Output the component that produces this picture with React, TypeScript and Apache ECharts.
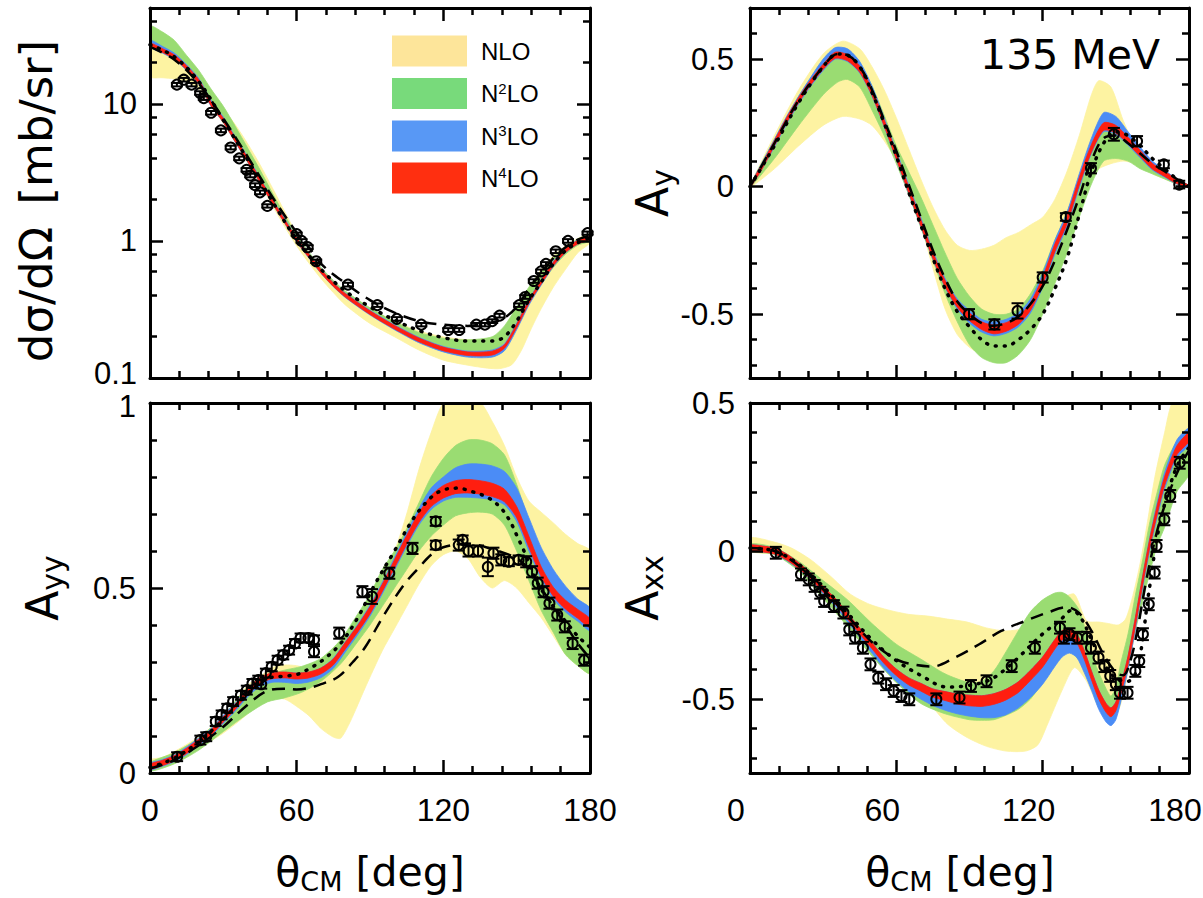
import React, { useEffect, useRef } from "react";
import * as echarts from "echarts";

// ---------- axis ticks / labels ----------
const xMajor = [0, 60, 120, 180];
const xMinor = [12, 24, 36, 48, 72, 84, 96, 108, 132, 144, 156, 168];
const dcsMajor = [0.1, 1, 10];
const dcsMinor = [0.2, 0.4, 0.6, 0.8, 2, 4, 6, 8, 20, 40];
const ayMajor = [-0.5, 0, 0.5];
const ayMinor = [-0.7, -0.6, -0.4, -0.3, -0.2, -0.1, 0.1, 0.2, 0.3, 0.4, 0.6];
const ayyMajor = [0, 0.5, 1];
const ayyMinor = [0.1, 0.2, 0.3, 0.4, 0.6, 0.7, 0.8, 0.9];
const axxMajor = [-0.5, 0, 0.5];
const axxMinor = [-0.7, -0.6, -0.4, -0.3, -0.2, -0.1, 0.1, 0.2, 0.3, 0.4];

// ---------- panel 1: dσ/dΩ [mb/sr]  ([deg, lower, upper]) ----------
const dcsNLO = [[0,15.8,28],[5,15.5,25.5],[10,15.2,22.5],[15,14.5,19],[20,12.8,15.5],[25,9.6,11.8],[30,7.2,9.2],[35,5.2,7.0],[40,3.7,5.1],[45,2.6,3.6],[50,1.82,2.45],[55,1.28,1.65],[60,0.92,1.12],[65,0.69,0.8],[70,0.53,0.62],[75,0.42,0.5],[80,0.34,0.42],[90,0.25,0.32],[100,0.2,0.26],[110,0.16,0.22],[120,0.135,0.2],[130,0.124,0.19],[138,0.118,0.19],[143,0.117,0.2],[148,0.125,0.25],[152,0.16,0.35],[156,0.23,0.48],[160,0.32,0.62],[165,0.46,0.78],[170,0.62,0.92],[175,0.82,1.04],[180,0.97,1.12]];
const dcsN2LO = [[0,27,37],[5,24,33.5],[10,21.2,29],[15,17.6,22.5],[20,13.9,17.5],[25,9.8,12.8],[30,7.4,9.6],[35,5.3,6.8],[40,3.8,4.75],[45,2.7,3.3],[50,1.9,2.25],[55,1.37,1.55],[60,1.0,1.1],[65,0.76,0.83],[70,0.585,0.64],[75,0.468,0.515],[80,0.39,0.43],[90,0.293,0.325],[100,0.23,0.258],[110,0.186,0.215],[120,0.16,0.195],[130,0.152,0.19],[140,0.158,0.2],[145,0.18,0.24],[150,0.245,0.33],[155,0.35,0.46],[160,0.48,0.6],[165,0.64,0.75],[170,0.8,0.9],[175,0.93,1.03],[180,1.0,1.12]];
const dcsN3LO = [[0,26,29.2],[5,23.5,26.3],[10,21,23.4],[15,17.5,19.3],[20,13.8,15.3],[25,9.6,10.6],[30,7.3,8.0],[35,5.2,5.7],[40,3.75,4.1],[45,2.65,2.88],[50,1.88,2.03],[55,1.35,1.46],[60,0.98,1.06],[65,0.75,0.81],[70,0.578,0.622],[75,0.463,0.497],[80,0.385,0.415],[90,0.288,0.312],[100,0.225,0.245],[110,0.181,0.198],[120,0.155,0.17],[130,0.142,0.157],[140,0.142,0.16],[145,0.158,0.178],[150,0.225,0.252],[155,0.34,0.375],[160,0.475,0.52],[165,0.65,0.71],[170,0.82,0.88],[175,0.95,1.02],[180,1.02,1.09]];
const dcsN4LO = [[0,26.2,27.8],[5,23.8,25.3],[10,21.3,22.7],[15,17.7,18.9],[20,14.0,15.0],[25,9.7,10.3],[30,7.35,7.85],[35,5.25,5.6],[40,3.78,4.02],[45,2.67,2.84],[50,1.89,2.01],[55,1.36,1.44],[60,0.99,1.05],[65,0.757,0.803],[70,0.582,0.618],[75,0.466,0.494],[80,0.388,0.412],[90,0.291,0.309],[100,0.228,0.242],[110,0.184,0.196],[120,0.158,0.168],[130,0.146,0.155],[140,0.147,0.157],[145,0.165,0.175],[150,0.233,0.247],[155,0.35,0.37],[160,0.485,0.515],[165,0.66,0.7],[170,0.825,0.875],[175,0.95,1.01],[180,1.02,1.08]];
const dcsDashed = [[0,26],[10,21],[20,14],[30,7.8],[40,4.1],[50,2.1],[60,1.15],[65,0.9],[70,0.68],[80,0.49],[90,0.37],[100,0.3],[110,0.26],[120,0.245],[130,0.24],[140,0.255],[145,0.275],[150,0.33],[155,0.45],[160,0.58],[165,0.75],[170,0.9],[175,1.02],[180,1.1]];
const dcsDotted = [[0,27],[10,22],[20,14.5],[30,7.6],[40,3.9],[50,1.95],[60,1.02],[70,0.62],[80,0.43],[90,0.33],[100,0.265],[110,0.222],[120,0.197],[130,0.186],[140,0.186],[145,0.2],[150,0.26],[155,0.37],[160,0.5],[165,0.68],[170,0.85],[175,0.97],[180,1.05]];
const dcsData = [[11,13.8,0.4],[13.8,15,0.45],[17,13.8,0.4],[20.5,12,0.35],[22,11,0.33],[25,8.6,0.26],[29,6.4,0.19],[33,4.8,0.15],[36.5,4.0,0.12],[39.5,3.3,0.1],[41,3.0,0.09],[43,2.55,0.08],[45,2.26,0.07],[48,1.8,0.05],[60,1.12,0.03],[62,1.0,0.03],[64.5,0.9,0.03],[68,0.71,0.02],[81,0.48,0.015],[93,0.34,0.01],[101,0.27,0.008],[111,0.245,0.007],[122,0.224,0.007],[126.5,0.224,0.007],[133.5,0.245,0.007],[137,0.245,0.007],[140,0.26,0.008],[143,0.285,0.009],[151,0.34,0.01],[153.5,0.39,0.012],[157,0.51,0.015],[160,0.6,0.018],[162,0.68,0.02],[166,0.84,0.025],[171,1.0,0.03],[179,1.14,0.03]];

// ---------- panel 2: Ay ----------
const ayNLO = [[0,-0.005,0.005],[10,0.07,0.2],[20,0.16,0.38],[30,0.24,0.52],[38,0.275,0.57],[45,0.265,0.54],[50,0.24,0.47],[55,0.18,0.38],[60,0.1,0.27],[65,-0.02,0.15],[70,-0.15,0.03],[75,-0.32,-0.08],[80,-0.48,-0.17],[85,-0.58,-0.23],[90,-0.63,-0.25],[95,-0.655,-0.245],[100,-0.66,-0.23],[105,-0.65,-0.2],[110,-0.6,-0.18],[115,-0.52,-0.15],[120,-0.42,-0.12],[125,-0.3,-0.05],[130,-0.17,0.06],[135,-0.04,0.2],[140,0.04,0.36],[143,0.07,0.415],[148,0.09,0.39],[153,0.1,0.26],[158,0.09,0.16],[165,0.05,0.09],[170,0.03,0.06],[175,0.01,0.02],[180,-0.005,0.005]];
const ayN2LO = [[0,-0.005,0.005],[10,0.11,0.185],[20,0.24,0.355],[30,0.36,0.49],[36,0.41,0.535],[40,0.42,0.53],[45,0.39,0.485],[50,0.3,0.395],[55,0.2,0.28],[60,0.09,0.16],[65,-0.03,0.06],[70,-0.16,-0.04],[75,-0.29,-0.15],[80,-0.42,-0.26],[85,-0.53,-0.36],[90,-0.62,-0.43],[95,-0.67,-0.48],[100,-0.69,-0.5],[105,-0.69,-0.5],[110,-0.66,-0.48],[115,-0.6,-0.42],[120,-0.5,-0.33],[125,-0.38,-0.21],[130,-0.26,-0.1],[135,-0.12,0.03],[140,0.01,0.15],[145,0.1,0.24],[150,0.11,0.23],[155,0.1,0.18],[160,0.07,0.13],[165,0.05,0.09],[170,0.03,0.06],[175,0.01,0.03],[180,-0.005,0.005]];
const ayN3LO = [[0,-0.005,0.005],[5,0.07,0.095],[10,0.155,0.185],[15,0.245,0.275],[20,0.325,0.355],[25,0.395,0.43],[30,0.455,0.5],[35,0.5,0.545],[40,0.49,0.54],[45,0.445,0.49],[50,0.355,0.395],[55,0.235,0.27],[60,0.105,0.14],[65,-0.025,0.01],[70,-0.155,-0.12],[75,-0.285,-0.25],[80,-0.395,-0.36],[85,-0.48,-0.44],[90,-0.535,-0.485],[95,-0.57,-0.52],[100,-0.585,-0.53],[105,-0.575,-0.52],[110,-0.55,-0.495],[115,-0.495,-0.44],[120,-0.395,-0.34],[125,-0.265,-0.21],[130,-0.155,-0.1],[135,-0.005,0.05],[140,0.13,0.19],[145,0.215,0.29],[150,0.205,0.275],[155,0.162,0.215],[160,0.113,0.155],[165,0.065,0.1],[170,0.037,0.065],[175,0.01,0.03],[180,-0.005,0.005]];
const ayN4LO = [[0,-0.005,0.005],[5,0.07,0.09],[10,0.16,0.18],[15,0.25,0.27],[20,0.33,0.35],[25,0.4,0.42],[30,0.46,0.48],[35,0.503,0.527],[40,0.493,0.517],[45,0.448,0.472],[50,0.358,0.382],[55,0.238,0.262],[60,0.108,0.132],[65,-0.022,0.002],[70,-0.152,-0.128],[75,-0.282,-0.258],[80,-0.392,-0.368],[85,-0.473,-0.447],[90,-0.525,-0.495],[95,-0.56,-0.53],[100,-0.577,-0.543],[105,-0.567,-0.533],[110,-0.54,-0.51],[115,-0.485,-0.455],[120,-0.385,-0.355],[125,-0.255,-0.225],[130,-0.145,-0.115],[135,0.005,0.035],[140,0.135,0.165],[145,0.22,0.25],[150,0.21,0.24],[155,0.167,0.193],[160,0.118,0.142],[165,0.069,0.091],[170,0.04,0.06],[175,0.012,0.028],[180,-0.005,0.005]];
const ayDashed = [[0,0],[10,0.17],[20,0.34],[30,0.47],[36,0.52],[40,0.515],[45,0.47],[50,0.38],[55,0.26],[60,0.14],[65,0.01],[70,-0.12],[75,-0.25],[80,-0.36],[85,-0.45],[90,-0.5],[95,-0.535],[100,-0.545],[105,-0.535],[110,-0.51],[115,-0.46],[120,-0.39],[125,-0.29],[130,-0.17],[135,-0.04],[140,0.1],[145,0.19],[150,0.2],[155,0.17],[160,0.13],[165,0.09],[170,0.06],[175,0.03],[180,0]];
const ayDotted = [[0,0],[10,0.16],[20,0.33],[30,0.47],[36,0.52],[40,0.515],[45,0.47],[50,0.37],[55,0.25],[60,0.12],[65,-0.02],[70,-0.15],[75,-0.28],[80,-0.4],[85,-0.49],[90,-0.55],[95,-0.6],[100,-0.625],[105,-0.625],[110,-0.6],[115,-0.56],[120,-0.5],[125,-0.4],[130,-0.28],[135,-0.11],[140,0.06],[145,0.17],[150,0.215],[155,0.2],[160,0.16],[165,0.11],[170,0.07],[175,0.03],[180,0]];
const ayData = [[89.8,-0.5,0.02],[100.2,-0.54,0.02],[109.7,-0.487,0.03],[120,-0.356,0.02],[129.5,-0.119,0.015],[139.8,0.072,0.02],[149.2,0.205,0.025],[158.7,0.178,0.02],[169.7,0.087,0.015],[176,0.008,0.015]];

// ---------- panel 3: Ayy ----------
const ayyNLO = [[0,0.005,0.035],[5,0.022,0.042],[10,0.038,0.058],[20,0.068,0.098],[30,0.108,0.152],[40,0.16,0.238],[44,0.19,0.255],[50,0.2,0.285],[55,0.2,0.292],[60,0.18,0.29],[65,0.155,0.282],[70,0.12,0.282],[75,0.097,0.3],[78,0.094,0.33],[82,0.14,0.375],[88,0.23,0.44],[95,0.33,0.54],[100,0.39,0.6],[105,0.45,0.7],[110,0.51,0.82],[115,0.56,0.92],[120,0.59,1.0],[125,0.6,1.06],[130,0.58,1.08],[135,0.53,1.01],[140,0.5,0.95],[145,0.52,0.885],[150,0.5,0.8],[155,0.46,0.735],[160,0.42,0.705],[165,0.37,0.676],[170,0.32,0.645],[175,0.29,0.62],[180,0.27,0.6]];
const ayyN2LO = [[0,0.005,0.028],[10,0.025,0.055],[20,0.062,0.095],[30,0.112,0.155],[40,0.16,0.232],[48,0.192,0.265],[55,0.203,0.278],[62,0.218,0.288],[70,0.248,0.31],[78,0.295,0.36],[85,0.355,0.43],[90,0.4,0.482],[95,0.45,0.55],[100,0.5,0.6],[105,0.55,0.66],[110,0.6,0.73],[115,0.64,0.8],[120,0.67,0.85],[125,0.695,0.885],[130,0.703,0.9],[135,0.705,0.9],[140,0.7,0.89],[145,0.67,0.86],[150,0.6,0.78],[155,0.52,0.68],[160,0.44,0.6],[165,0.38,0.545],[170,0.32,0.5],[175,0.29,0.465],[180,0.27,0.445]];
const ayyN3LO = [[0,0.008,0.026],[5,0.018,0.036],[10,0.031,0.049],[15,0.05,0.07],[20,0.075,0.095],[25,0.1,0.12],[30,0.134,0.156],[35,0.168,0.19],[40,0.206,0.23],[45,0.234,0.258],[50,0.245,0.27],[55,0.245,0.272],[60,0.242,0.27],[65,0.246,0.272],[70,0.258,0.284],[75,0.283,0.31],[80,0.328,0.356],[85,0.374,0.402],[90,0.424,0.454],[95,0.484,0.515],[100,0.548,0.582],[105,0.612,0.65],[110,0.67,0.715],[115,0.712,0.77],[120,0.735,0.8],[125,0.745,0.825],[130,0.745,0.835],[135,0.743,0.835],[140,0.738,0.83],[145,0.725,0.815],[150,0.68,0.77],[155,0.6,0.69],[160,0.525,0.61],[165,0.47,0.55],[170,0.435,0.505],[175,0.41,0.47],[180,0.385,0.445]];
const ayyN4LO = [[0,0.01,0.024],[5,0.02,0.034],[10,0.033,0.047],[15,0.053,0.067],[20,0.078,0.092],[25,0.103,0.117],[30,0.138,0.152],[35,0.173,0.187],[40,0.212,0.228],[45,0.242,0.258],[50,0.255,0.271],[55,0.257,0.273],[60,0.254,0.27],[65,0.257,0.273],[70,0.268,0.284],[75,0.292,0.308],[80,0.336,0.354],[85,0.381,0.399],[90,0.43,0.45],[95,0.49,0.51],[100,0.554,0.576],[105,0.618,0.642],[110,0.677,0.703],[115,0.72,0.75],[120,0.743,0.777],[125,0.755,0.79],[130,0.757,0.793],[135,0.754,0.79],[140,0.747,0.783],[145,0.733,0.767],[150,0.69,0.72],[155,0.61,0.64],[160,0.532,0.558],[165,0.478,0.502],[170,0.443,0.467],[175,0.418,0.442],[180,0.393,0.417]];
const ayyDashed = [[0,0.012],[10,0.035],[20,0.075],[30,0.125],[40,0.185],[48,0.222],[55,0.228],[60,0.226],[65,0.23],[70,0.24],[77,0.26],[83,0.3],[88,0.34],[96,0.43],[104,0.51],[110,0.555],[115,0.59],[120,0.61],[130,0.62],[140,0.605],[150,0.58],[155,0.55],[160,0.5],[165,0.45],[170,0.4],[175,0.35],[180,0.31]];
const ayyDotted = [[0,0.015],[10,0.04],[20,0.085],[30,0.145],[40,0.215],[48,0.255],[55,0.262],[60,0.266],[66,0.285],[72,0.312],[78,0.35],[85,0.42],[92,0.51],[100,0.6],[108,0.69],[115,0.745],[120,0.765],[126,0.77],[131,0.762],[138,0.745],[143,0.72],[147,0.684],[150,0.643],[153,0.6],[158,0.52],[165,0.45],[170,0.41],[175,0.37],[180,0.34]];
const ayyData = [[11.1,0.044,0.012],[20.6,0.089,0.012],[23,0.098,0.012],[26.9,0.139,0.012],[29.3,0.157,0.012],[31.6,0.175,0.012],[34,0.193,0.012],[37.2,0.21,0.012],[39.6,0.224,0.012],[41.9,0.242,0.012],[44.3,0.251,0.012],[45.5,0.24,0.012],[47.4,0.27,0.012],[49.8,0.287,0.012],[52.2,0.305,0.012],[54.5,0.319,0.012],[56.9,0.332,0.012],[59.3,0.35,0.012],[61.6,0.365,0.012],[64.8,0.365,0.012],[67.1,0.36,0.012],[67.1,0.328,0.015],[77.4,0.378,0.015],[86.9,0.49,0.015],[90.8,0.477,0.02],[97.9,0.54,0.015],[107.4,0.607,0.015],[116.9,0.68,0.012],[116.9,0.616,0.012],[126.3,0.616,0.015],[127.9,0.63,0.012],[130.3,0.6,0.015],[134.2,0.6,0.015],[138.2,0.557,0.025],[140.5,0.594,0.015],[143.7,0.576,0.015],[146.8,0.571,0.012],[150.8,0.576,0.012],[153.9,0.571,0.015],[156.3,0.544,0.015],[158.6,0.513,0.015],[161,0.49,0.015],[163.4,0.459,0.015],[166.6,0.427,0.015],[169.7,0.395,0.015],[172.9,0.35,0.015],[177.6,0.305,0.015]];

// ---------- panel 4: Axx ----------
const axxNLO = [[0,0.0,0.045],[10,-0.012,0.03],[17,-0.042,0.01],[25,-0.097,-0.03],[33,-0.165,-0.085],[41,-0.245,-0.145],[49,-0.318,-0.18],[57,-0.39,-0.2],[65,-0.45,-0.214],[73,-0.51,-0.22],[81,-0.585,-0.23],[89,-0.63,-0.24],[97,-0.66,-0.26],[105,-0.676,-0.27],[113,-0.676,-0.26],[118,-0.655,-0.23],[122,-0.585,-0.2],[128,-0.47,-0.16],[133,-0.394,-0.146],[138,-0.44,-0.236],[143,-0.53,-0.24],[147,-0.57,-0.245],[151,-0.54,-0.25],[154,-0.45,-0.23],[157,-0.3,-0.15],[160,-0.15,-0.04],[163,-0.02,0.1],[166,0.08,0.25],[170,0.18,0.4],[173,0.25,0.5],[176,0.29,0.6],[180,0.3,0.7]];
const axxN2LO = [[0,0.0,0.025],[10,-0.012,0.012],[20,-0.068,-0.035],[30,-0.16,-0.1],[40,-0.255,-0.165],[50,-0.355,-0.245],[60,-0.445,-0.315],[70,-0.515,-0.365],[80,-0.55,-0.415],[90,-0.57,-0.445],[95,-0.572,-0.44],[100,-0.57,-0.405],[105,-0.555,-0.34],[110,-0.535,-0.27],[115,-0.5,-0.205],[120,-0.445,-0.165],[125,-0.385,-0.142],[128,-0.355,-0.14],[131,-0.34,-0.155],[135,-0.37,-0.2],[138,-0.42,-0.28],[142,-0.5,-0.39],[146,-0.555,-0.465],[148,-0.565,-0.49],[150,-0.555,-0.46],[152,-0.5,-0.38],[155,-0.4,-0.28],[158,-0.27,-0.15],[161,-0.17,-0.03],[164,-0.07,0.1],[167,0.02,0.2],[170,0.08,0.29],[175,0.2,0.37],[180,0.26,0.41]];
const axxN3LO = [[0,0.0,0.02],[5,-0.003,0.017],[10,-0.01,0.01],[15,-0.032,-0.01],[20,-0.062,-0.04],[25,-0.098,-0.075],[30,-0.145,-0.12],[35,-0.187,-0.16],[40,-0.24,-0.21],[45,-0.292,-0.26],[50,-0.345,-0.31],[55,-0.397,-0.36],[60,-0.44,-0.399],[65,-0.475,-0.428],[70,-0.5,-0.447],[75,-0.522,-0.466],[80,-0.538,-0.475],[85,-0.55,-0.483],[90,-0.558,-0.487],[95,-0.563,-0.489],[100,-0.563,-0.482],[105,-0.553,-0.467],[110,-0.53,-0.442],[115,-0.495,-0.403],[120,-0.45,-0.358],[125,-0.39,-0.299],[128,-0.358,-0.269],[131,-0.345,-0.261],[134,-0.36,-0.28],[137,-0.41,-0.335],[140,-0.47,-0.405],[143,-0.535,-0.47],[146,-0.578,-0.515],[148,-0.59,-0.53],[150,-0.57,-0.51],[152,-0.51,-0.455],[155,-0.4,-0.355],[158,-0.265,-0.225],[161,-0.125,-0.085],[164,0.005,0.05],[167,0.115,0.165],[170,0.21,0.265],[175,0.315,0.375],[180,0.36,0.415]];
const axxN4LO = [[0,0.0,0.02],[5,-0.003,0.017],[10,-0.01,0.01],[15,-0.03,-0.01],[20,-0.06,-0.04],[25,-0.095,-0.075],[30,-0.14,-0.12],[35,-0.18,-0.16],[40,-0.23,-0.21],[45,-0.28,-0.26],[50,-0.33,-0.31],[55,-0.38,-0.36],[60,-0.421,-0.399],[65,-0.452,-0.428],[70,-0.473,-0.447],[75,-0.494,-0.466],[80,-0.505,-0.475],[85,-0.517,-0.483],[90,-0.523,-0.487],[95,-0.525,-0.489],[100,-0.518,-0.482],[105,-0.503,-0.467],[110,-0.478,-0.442],[115,-0.437,-0.403],[120,-0.392,-0.358],[125,-0.331,-0.299],[128,-0.301,-0.269],[131,-0.291,-0.261],[134,-0.31,-0.28],[137,-0.365,-0.335],[140,-0.435,-0.405],[143,-0.5,-0.47],[146,-0.545,-0.515],[148,-0.56,-0.53],[150,-0.54,-0.51],[152,-0.485,-0.455],[155,-0.385,-0.355],[158,-0.255,-0.225],[161,-0.115,-0.085],[164,0.015,0.045],[167,0.125,0.155],[170,0.221,0.251],[175,0.325,0.355],[180,0.37,0.4]];
const axxDashed = [[0,0.01],[10,0.0],[20,-0.05],[30,-0.13],[40,-0.22],[49,-0.3],[55,-0.34],[61,-0.37],[68,-0.385],[75,-0.39],[84,-0.36],[94,-0.315],[103,-0.27],[113,-0.236],[122,-0.208],[130,-0.19],[135,-0.21],[140,-0.27],[145,-0.35],[150,-0.41],[153,-0.42],[156,-0.37],[159,-0.26],[162,-0.12],[165,0.0],[168,0.1],[172,0.2],[176,0.28],[180,0.34]];
const axxDotted = [[0,0.01],[10,0.0],[20,-0.045],[30,-0.12],[40,-0.21],[50,-0.3],[60,-0.37],[70,-0.42],[81,-0.46],[89,-0.455],[97,-0.44],[102,-0.417],[110,-0.36],[120,-0.28],[127,-0.235],[132,-0.2],[136,-0.23],[140,-0.3],[145,-0.38],[150,-0.43],[155,-0.44],[159,-0.39],[163.6,-0.135],[168,0.09],[174.7,0.28],[180,0.35]];
const axxData = [[10.6,-0.006,0.02],[20.9,-0.079,0.02],[24.1,-0.096,0.02],[26.5,-0.118,0.02],[28.8,-0.141,0.02],[30.4,-0.169,0.02],[34.4,-0.186,0.02],[38.3,-0.208,0.02],[40.7,-0.265,0.02],[43.1,-0.293,0.02],[46.3,-0.327,0.02],[49.4,-0.383,0.02],[52.6,-0.428,0.02],[55.8,-0.45,0.02],[58.9,-0.473,0.02],[62.1,-0.49,0.02],[65.3,-0.501,0.02],[76.4,-0.501,0.02],[85.9,-0.495,0.02],[90.6,-0.456,0.02],[97,-0.44,0.02],[107.3,-0.389,0.02],[116.8,-0.327,0.02],[127.1,-0.259,0.02],[128.7,-0.293,0.02],[131,-0.281,0.02],[134.2,-0.293,0.02],[138.2,-0.293,0.02],[139.8,-0.327,0.02],[142.9,-0.36,0.02],[145.3,-0.389,0.02],[147.7,-0.422,0.02],[150,-0.45,0.02],[151.7,-0.479,0.02],[154.8,-0.479,0.02],[158,-0.405,0.02],[159.6,-0.372,0.02],[161.1,-0.281,0.02],[163.5,-0.18,0.02],[165.9,-0.073,0.02],[166.7,0.017,0.02],[169.9,0.107,0.02],[172.3,0.186,0.02],[176.2,0.298,0.02]];

// ---------- legend ----------
const legendLabels = ["NLO", "N{s|2}LO", "N{s|3}LO", "N{s|4}LO"];
const legendColors = ["#fde59a", "#78da7b", "#5898f5", "#ff2f10"];
const bandColors = ["#fdf3a2", "#9adc72", "#4b8cf6", "#ff1e10"];

const TICK_FONT = "'Liberation Sans', Arial, sans-serif";
const TITLE_FONT = "'DejaVu Sans', sans-serif";

const grids = [
  { left: 150, top: 8, width: 440, height: 370 },
  { left: 750, top: 8, width: 439, height: 370 },
  { left: 150, top: 403, width: 440, height: 370 },
  { left: 750, top: 403, width: 439, height: 370 },
];

function axisSet(dim: "x" | "y", gi: number, o: any) {
  const posA = dim === "x" ? "bottom" : "left";
  const posB = dim === "x" ? "top" : "right";
  const base: any = {
    gridIndex: gi,
    type: o.type || "value",
    min: o.min,
    max: o.max,
    z: 10,
    splitLine: { show: false },
    axisPointer: { show: false },
  };
  if (o.type === "log") base.logBase = 10;
  const line = { show: true, onZero: false, lineStyle: { color: "#000", width: 3 } };
  const noLine = { show: false, onZero: false };
  const major = (vals: number[]) => ({ show: true, inside: true, length: 13, lineStyle: { color: "#000", width: 2.5 }, customValues: vals });
  const minor = (vals: number[]) => ({ show: true, inside: true, length: 7, lineStyle: { color: "#000", width: 2.5 }, customValues: vals });
  const fs = o.fontSize || 32;
  const label: any = o.labels
    ? {
        show: true, customValues: o.major, fontFamily: TICK_FONT, fontSize: fs, color: "#000",
        margin: o.margin, padding: o.padding || 0,
        formatter: (v: number) => {
          const s = String(+v.toFixed(3));
          if (o.shiftUp != null && Math.abs(v - o.shiftUp) < 1e-9) return "{up|" + s + "}";
          if (o.shiftDown != null && Math.abs(v - o.shiftDown) < 1e-9) return "{dn|" + s + "}";
          return s;
        },
        rich: {
          up: { fontFamily: TICK_FONT, fontSize: fs, color: "#000", padding: [0, 0, 10, 0] },
          dn: { fontFamily: TICK_FONT, fontSize: fs, color: "#000", padding: [6, 0, 0, 0] },
        },
      }
    : { show: false };
  return [
    { ...base, position: posA, axisLine: line, axisTick: major(o.major), axisLabel: label },
    { ...base, position: posA, axisLine: noLine, axisTick: minor(o.minor), axisLabel: { show: false } },
    { ...base, position: posB, axisLine: line, axisTick: major(o.major), axisLabel: { show: false } },
    { ...base, position: posB, axisLine: noLine, axisTick: minor(o.minor), axisLabel: { show: false } },
  ];
}

function bandSeries(gi: number, band: number[][], color: string, z: number) {
  return {
    type: "custom",
    xAxisIndex: gi * 4,
    yAxisIndex: gi * 4,
    clip: true,
    silent: true,
    z,
    data: band,
    encode: { x: 0, y: [1, 2] },
    renderItem: (params: any, api: any) => {
      if (params.dataIndex !== 0) return null;
      const cs = params.coordSys;
      const clamp = (p: number[]) => [p[0], Math.max(cs.y - 1, Math.min(cs.y + cs.height + 1, p[1]))];
      const top = band.map((p) => clamp(api.coord([p[0], p[2]])));
      const bot = band.map((p) => clamp(api.coord([p[0], p[1]]))).reverse();
      return {
        type: "polygon",
        shape: { points: top.concat(bot), smooth: 0.25 },
        style: { fill: color, stroke: color, lineWidth: 0.8 },
      };
    },
  };
}

function lineSeries(gi: number, data: number[][], kind: "dashed" | "dotted") {
  return {
    type: "line",
    xAxisIndex: gi * 4,
    yAxisIndex: gi * 4,
    data,
    smooth: 0.35,
    symbol: "none",
    silent: true,
    z: 6,
    lineStyle:
      kind === "dashed"
        ? { color: "#000", width: 2.5, type: [13, 8] }
        : { color: "#000", width: 3.5, type: [1, 8], cap: "round" },
  };
}

function dataSeries(gi: number, data: number[][]) {
  return {
    type: "custom",
    xAxisIndex: gi * 4,
    yAxisIndex: gi * 4,
    silent: true,
    z: 7,
    data,
    encode: { x: 0, y: 1 },
    renderItem: (params: any, api: any) => {
      const x = api.value(0), y = api.value(1), e = api.value(2);
      const p = api.coord([x, y]);
      const pt = api.coord([x, y + e]);
      const pb = api.coord([x, y - e]);
      const st = { stroke: "#000", lineWidth: 2, fill: "none" };
      return {
        type: "group",
        children: [
          { type: "line", shape: { x1: p[0], y1: pt[1], x2: p[0], y2: pb[1] }, style: st },
          { type: "line", shape: { x1: p[0] - 6, y1: pt[1], x2: p[0] + 6, y2: pt[1] }, style: st },
          { type: "line", shape: { x1: p[0] - 6, y1: pb[1], x2: p[0] + 6, y2: pb[1] }, style: st },
          { type: "circle", shape: { cx: p[0], cy: p[1], r: 5 }, style: st },
        ],
      };
    },
  };
}

function panelSeries(gi: number, bands: number[][][], dashed: number[][], dotted: number[][], pts: number[][]) {
  return [
    ...bands.map((b, i) => bandSeries(gi, b, bandColors[i], 1 + i)),
    lineSeries(gi, dashed, "dashed"),
    lineSeries(gi, dotted, "dotted"),
    dataSeries(gi, pts),
  ];
}

export default function App() {
  const ref = useRef<HTMLDivElement>(null);
  useEffect(() => {
    if (!ref.current) return;
    const chart = echarts.init(ref.current, null, { renderer: "svg", width: 1203, height: 898 });

    const xAxis = [
      ...axisSet("x", 0, { min: 0, max: 180, major: xMajor, minor: xMinor, labels: false }),
      ...axisSet("x", 1, { min: 0, max: 180, major: xMajor, minor: xMinor, labels: false }),
      ...axisSet("x", 2, { min: 0, max: 180, major: xMajor, minor: xMinor, labels: true, margin: 21 }),
      ...axisSet("x", 3, { min: 0, max: 180, major: xMajor, minor: xMinor, labels: true, margin: 21, padding: [0, 28, 0, 0] }),
    ];
    const yAxis = [
      ...axisSet("y", 0, { type: "log", min: 0.1, max: 50, major: dcsMajor, minor: dcsMinor, labels: true, margin: 13, fontSize: 31, shiftUp: 0.1 }),
      ...axisSet("y", 1, { min: -0.75, max: 0.7, major: ayMajor, minor: ayMinor, labels: true, margin: 16, fontSize: 31 }),
      ...axisSet("y", 2, { min: 0, max: 1, major: ayyMajor, minor: ayyMinor, labels: true, margin: 14, fontSize: 31, shiftDown: 1 }),
      ...axisSet("y", 3, { min: -0.75, max: 0.5, major: axxMajor, minor: axxMinor, labels: true, margin: 15, fontSize: 31 }),
    ];

    const series = [
      ...panelSeries(0, [dcsNLO, dcsN2LO, dcsN3LO, dcsN4LO], dcsDashed, dcsDotted, dcsData),
      ...panelSeries(1, [ayNLO, ayN2LO, ayN3LO, ayN4LO], ayDashed, ayDotted, ayData),
      ...panelSeries(2, [ayyNLO, ayyN2LO, ayyN3LO, ayyN4LO], ayyDashed, ayyDotted, ayyData),
      ...panelSeries(3, [axxNLO, axxN2LO, axxN3LO, axxN4LO], axxDashed, axxDotted, axxData),
    ];

    const legendY = [51, 93.5, 136, 178];
    const subRich = (lh: number) => ({
      a: { fontFamily: TITLE_FONT, fontSize: 44, lineHeight: 50, fill: "#000" },
      s: { fontFamily: TITLE_FONT, fontSize: 30, lineHeight: lh, verticalAlign: "bottom", fill: "#000" },
    });
    const thetaRich = {
      a: { fontFamily: TITLE_FONT, fontSize: 41, lineHeight: 46, fill: "#000" },
      s: { fontFamily: TITLE_FONT, fontSize: 27, lineHeight: 22, verticalAlign: "bottom", fill: "#000" },
    };

    const graphic: any[] = [
      ...legendColors.map((c, i) => ({
        type: "rect", z: 20, silent: true,
        shape: { x: 392, y: legendY[i] - 15.5, width: 75, height: 31 },
        style: { fill: c },
      })),
      ...legendLabels.map((t, i) => ({
        type: "text", z: 20, silent: true, x: 481, y: legendY[i],
        style: {
          text: t, fontFamily: TICK_FONT, fontSize: 24, lineHeight: 26, fill: "#000",
          align: "left", verticalAlign: "middle",
          rich: { s: { fontFamily: TICK_FONT, fontSize: 15, lineHeight: 15, verticalAlign: "top", fill: "#000" } },
        },
      })),
      {
        type: "text", z: 20, silent: true, x: 1160, y: 55,
        style: { text: "135 MeV", fontFamily: TITLE_FONT, fontSize: 41, fill: "#000", align: "right", verticalAlign: "middle" },
      },
      {
        type: "text", z: 20, silent: true, x: 36, y: 201, rotation: Math.PI / 2,
        style: { text: "dσ/dΩ\u2002[mb/sr]", fontFamily: TITLE_FONT, fontSize: 45, fill: "#000", align: "center", verticalAlign: "middle" },
      },
      {
        type: "text", z: 20, silent: true, x: 652, y: 193, rotation: Math.PI / 2,
        style: { text: "{a|A}{s|y}", rich: subRich(22), align: "center", verticalAlign: "middle" },
      },
      {
        type: "text", z: 20, silent: true, x: 42, y: 588, rotation: Math.PI / 2,
        style: { text: "{a|A}{s|yy}", rich: subRich(22), align: "center", verticalAlign: "middle" },
      },
      {
        type: "text", z: 20, silent: true, x: 642, y: 588, rotation: Math.PI / 2,
        style: { text: "{a|A}{s|xx}", rich: subRich(22), align: "center", verticalAlign: "middle" },
      },
      {
        type: "text", z: 20, silent: true, x: 370, y: 872,
        style: { text: "{a|θ}{s|CM}{a| [deg]}", rich: thetaRich, align: "center", verticalAlign: "middle" },
      },
      {
        type: "text", z: 20, silent: true, x: 960, y: 872,
        style: { text: "{a|θ}{s|CM}{a| [deg]}", rich: thetaRich, align: "center", verticalAlign: "middle" },
      },
    ];

    chart.setOption({
      animation: false,
      backgroundColor: "#fff",
      grid: grids.map((g) => ({ ...g, containLabel: false, outerBoundsMode: "none" })),
      xAxis,
      yAxis,
      series,
      graphic,
    });
    return () => chart.dispose();
  }, []);
  return (
    <div
      ref={ref}
      style={{ position: "fixed", left: 0, top: 0, width: 1203, height: 898, background: "#fff" }}
    />
  );
}
